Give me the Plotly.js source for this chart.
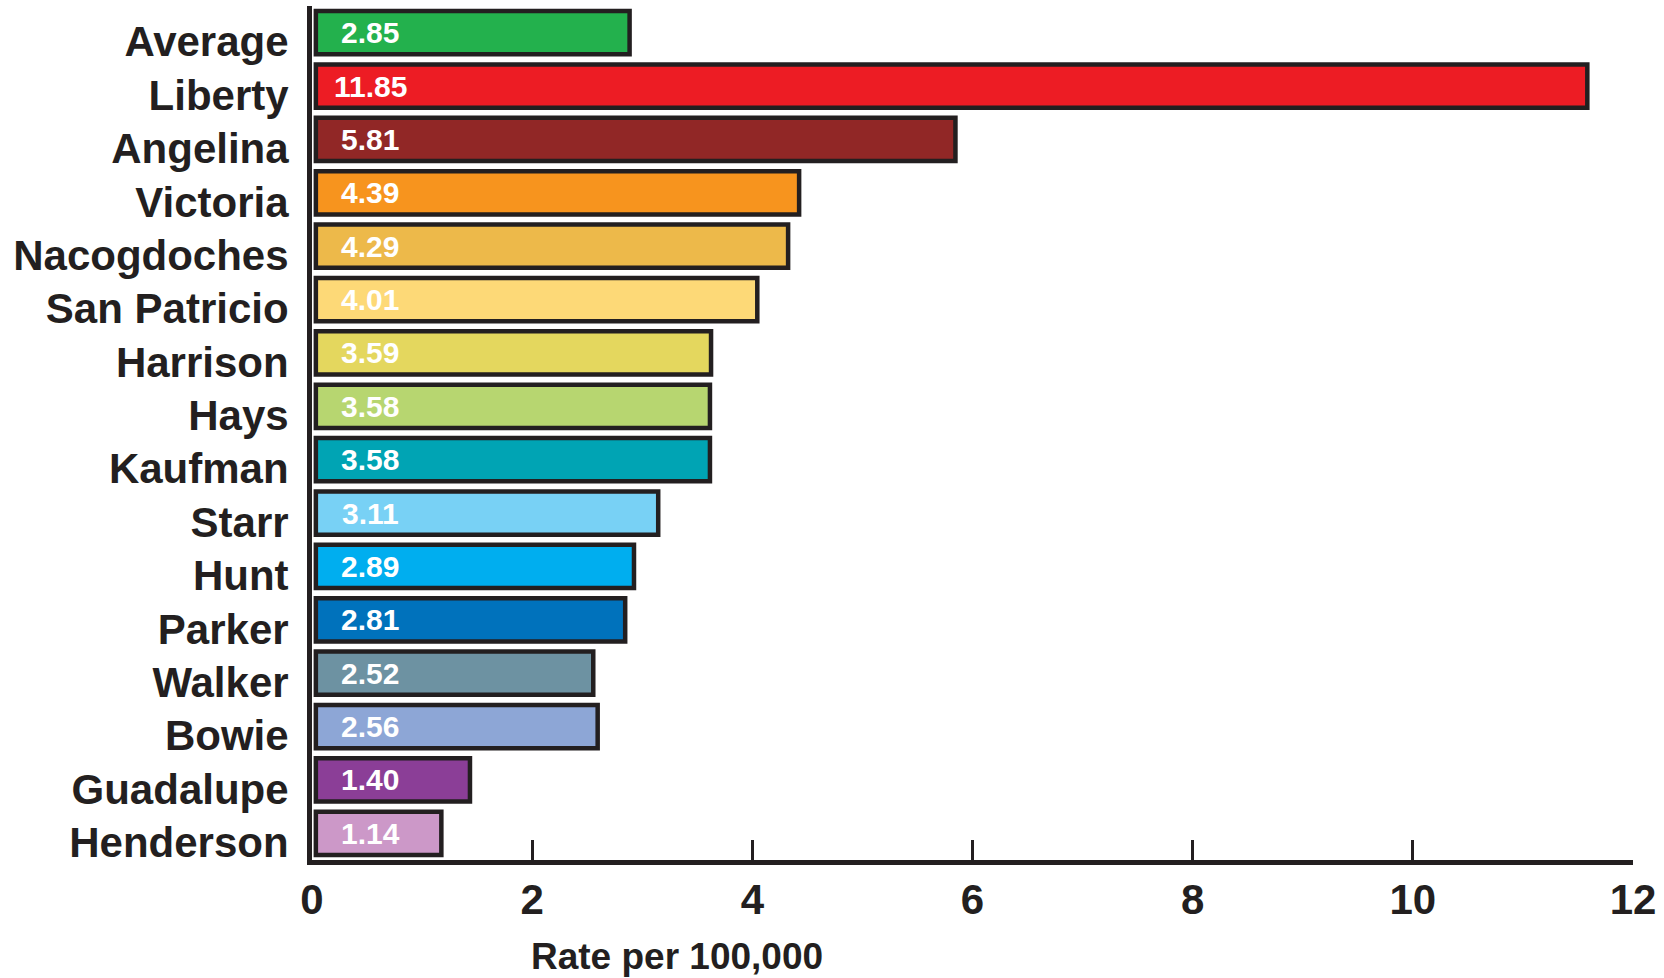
<!DOCTYPE html>
<html>
<head>
<meta charset="utf-8">
<script src="https://cdn.plot.ly/plotly-3.0.1.min.js"></script>
<style>
  html, body { margin: 0; padding: 0; background: #ffffff; }
  #chart { width: 1664px; height: 978px; }
</style>
</head>
<body>
<div id="chart"></div>
<script>
// ---- Data ----
const counties = ['Average', 'Liberty', 'Angelina', 'Victoria', 'Nacogdoches', 'San Patricio',
  'Harrison', 'Hays', 'Kaufman', 'Starr', 'Hunt', 'Parker', 'Walker', 'Bowie', 'Guadalupe', 'Henderson'];
// bar lengths as drawn (Liberty's bar is drawn shorter than its 11.85 label)
const barLengths = [2.85, 11.55, 5.81, 4.39, 4.29, 4.01, 3.59, 3.58, 3.58, 3.11, 2.89, 2.81, 2.52, 2.56, 1.40, 1.14];
// value labels printed inside the bars
const rateLabels = ['2.85', '11.85', '5.81', '4.39', '4.29', '4.01', '3.59', '3.58', '3.58', '3.11',
  '2.89', '2.81', '2.52', '2.56', '1.40', '1.14'];
const barColors = ['#23B14D', '#ED1C24', '#912726', '#F7941E', '#EDB94A', '#FDD977', '#E4D75E',
  '#B7D670', '#00A4B4', '#78D1F5', '#00AEEF', '#0072BC', '#6D92A2', '#8DA6D6', '#8B3E97', '#CC98C8'];
const xTickValues = [0, 2, 4, 6, 8, 10, 12];
const xAxisTitle = 'Rate per 100,000';

// ---- Styling ----
const FONT = 'Liberation Sans, Arial, Helvetica, sans-serif';
const INK = '#231F20';
const labelX = 0.53;     // horizontal position of the value labels (data units)
const barStart = 0.035;  // bars start just right of the axis line

const bars = {
  type: 'bar',
  orientation: 'h',
  y: counties,
  x: barLengths,
  base: barStart,
  marker: { color: barColors, line: { color: INK, width: 4.5 } },
  hoverinfo: 'skip',
  showlegend: false
};

const valueAnnotations = counties.map((c, i) => ({
  text: rateLabels[i],
  xref: 'x', yref: 'y',
  x: labelX, y: c,
  xanchor: 'center', yanchor: 'middle',
  yshift: 0,
  showarrow: false,
  font: { family: FONT, size: 30, color: '#ffffff', weight: 'bold' }
}));

const layout = {
  width: 1664,
  height: 978,
  margin: { l: 312, r: 31, t: 6, b: 118, pad: 0 },
  paper_bgcolor: '#ffffff',
  plot_bgcolor: '#ffffff',
  bargap: 0.19,
  font: { family: FONT, color: INK },
  xaxis: {
    range: [0, 12],
    tickvals: xTickValues,
    ticktext: xTickValues.map(String),
    ticks: 'inside',
    ticklen: 20,
    tickwidth: 3,
    tickcolor: INK,
    showline: true,
    linewidth: 5,
    linecolor: INK,
    showgrid: false,
    zeroline: false,
    tickfont: { family: FONT, size: 42, color: INK, weight: 'bold' },
    ticklabelstandoff: -1,
    fixedrange: true
  },
  yaxis: {
    type: 'category',
    categoryorder: 'array',
    categoryarray: counties,
    range: [15.5, -0.5],
    ticks: '',
    showline: true,
    linewidth: 5,
    linecolor: INK,
    showgrid: false,
    zeroline: false,
    tickfont: { family: FONT, size: 42, color: INK, weight: 'bold' },
    ticklabelstandoff: 10,
    ticklabelshift: -9,
    fixedrange: true
  },
  annotations: valueAnnotations.concat([{
    text: xAxisTitle,
    xref: 'x', yref: 'paper',
    x: 3.32, y: -0.1382,
    xanchor: 'center', yanchor: 'bottom',
    borderpad: 0,
    showarrow: false,
    font: { family: FONT, size: 37, color: INK, weight: 'bold' }
  }])
};

Plotly.newPlot('chart', [bars], layout, { displayModeBar: false, staticPlot: true });
</script>
</body>
</html>
